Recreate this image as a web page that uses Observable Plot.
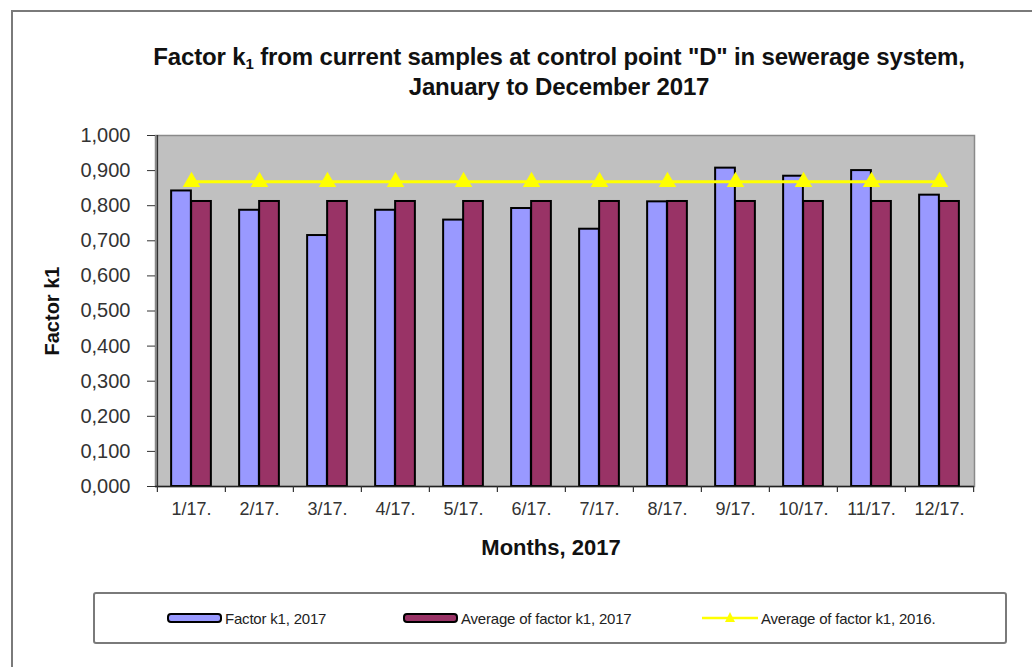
<!DOCTYPE html>
<html>
<head>
<meta charset="utf-8">
<script src="https://cdn.jsdelivr.net/npm/d3@7"></script>
<script src="https://cdn.jsdelivr.net/npm/@observablehq/plot@0.6"></script>
<style>
  body { margin: 0; background: white; font-family: "Liberation Sans", Arial, sans-serif; }
  #wrap { position: relative; width: 1032px; height: 667px; overflow: hidden; background: white; }
  #wrap svg.plotsvg { position: absolute; left: 0; top: 0; }
  .outer { position: absolute; left: 11px; top: 10px; width: 1040px; height: 680px; border: 2px solid #7a7a7a; box-sizing: border-box; }
  .title { position: absolute; left: 146px; width: 826px; top: 42px; text-align: center; font-weight: bold; font-size: 24px; line-height: 30px; color: #111; letter-spacing: -0.15px; }
  .title sub { font-size: 15px; line-height: 0; vertical-align: -4px; }
  .ytitle { position: absolute; left: 52px; top: 311px; transform: translate(-50%, -50%) rotate(-90deg); font-weight: bold; font-size: 20px; color: #111; white-space: nowrap; }
  .xtitle { position: absolute; left: 551px; top: 548px; transform: translate(-50%, -50%); font-weight: bold; font-size: 22px; color: #111; white-space: nowrap; }
  .legend { position: absolute; left: 93px; top: 592px; width: 914px; height: 52px; border: 2px solid #7a7a7a; border-radius: 3px; box-sizing: border-box; background: white; }
  .item { position: absolute; top: 0; height: 48px; display: flex; align-items: center; font-size: 15px; color: #222; letter-spacing: -0.2px; white-space: nowrap; }
</style>
</head>
<body>
<div id="wrap">
  <div class="outer"></div>
</div>
<script>
const months = ["1/17.", "2/17.", "3/17.", "4/17.", "5/17.", "6/17.", "7/17.", "8/17.", "9/17.", "10/17.", "11/17.", "12/17."];
const factorK1_2017 = [0.842, 0.787, 0.715, 0.787, 0.759, 0.792, 0.733, 0.811, 0.907, 0.884, 0.900, 0.830];
const avgK1_2017 = [0.812, 0.812, 0.812, 0.812, 0.812, 0.812, 0.812, 0.812, 0.812, 0.812, 0.812, 0.812];
const avgK1_2016 = [0.868, 0.868, 0.868, 0.868, 0.868, 0.868, 0.868, 0.868, 0.868, 0.868, 0.868, 0.868];
const yTicks = [0, 0.1, 0.2, 0.3, 0.4, 0.5, 0.6, 0.7, 0.8, 0.9, 1.0];
const seriesNames = ["Factor k1, 2017", "Average of factor k1, 2017", "Average of factor k1, 2016."];
const colors = ["#9999ff", "#993366", "#ffff00"];

const rows = months.map((m, i) => ({month: m, k1: factorK1_2017[i], avg17: avgK1_2017[i], avg16: avgK1_2016[i]}));

const W = 1032, H = 667, mL = 155, mR = 58, mT = 135, mB = 181;
const band = (W - mL - mR) / months.length;
const half = band / 2;
const fmt = d => d3.format(".3f")(d).replace(".", ",");

const chart = Plot.plot({
  width: W, height: H,
  marginLeft: mL, marginRight: mR, marginTop: mT, marginBottom: mB,
  style: {background: "transparent", fontFamily: "Liberation Sans, Arial, sans-serif"},
  x: {domain: months, padding: 0, axis: null},
  y: {domain: [0, 1], axis: null},
  marks: [
    Plot.frame({fill: "#c0c0c0", stroke: "#8a8a8a", strokeWidth: 1.5}),
    Plot.barY(rows, {x: "month", y: "k1", fill: colors[0], stroke: "#000", strokeWidth: 2, insetLeft: half - 20, insetRight: half}),
    Plot.barY(rows, {x: "month", y: "avg17", fill: colors[1], stroke: "#000", strokeWidth: 2, insetLeft: half, insetRight: half - 20}),
    Plot.line(rows, {x: "month", y: "avg16", stroke: colors[2], strokeWidth: 3}),
    Plot.dot(rows, {x: "month", y: "avg16", symbol: "triangle", r: 6.5, fill: colors[2], stroke: "none"}),
    Plot.ruleY([0], {stroke: "#222", strokeWidth: 1.5}),
    Plot.ruleX([months[0]], {x: d => d, dx: -half, stroke: "#333", strokeWidth: 1.5}),
    Plot.ruleX(months, {x: d => d, dx: -half, y1: 0, y2: 0, insetBottom: -6, stroke: "#333", strokeWidth: 1.2}),
    Plot.ruleX([months[months.length - 1]], {x: d => d, dx: half, y1: 0, y2: 0, insetBottom: -6, stroke: "#333", strokeWidth: 1.2}),
    Plot.axisY({ticks: yTicks, tickFormat: fmt, tickSize: 8, tickPadding: 17, fontSize: 20, color: "#333", label: null, stroke: "#333"}),
    Plot.axisX({tickSize: 0, tickPadding: 16, fontSize: 18, color: "#333", label: null})
  ]
});
chart.classList.add("plotsvg");
const wrap = document.getElementById("wrap");
wrap.appendChild(chart);

const title = document.createElement("div");
title.className = "title";
title.innerHTML = 'Factor k<sub>1</sub> from current samples at control point "D" in sewerage system,<br>January to December 2017';
wrap.appendChild(title);

const yt = document.createElement("div"); yt.className = "ytitle"; yt.textContent = "Factor k1"; wrap.appendChild(yt);
const xt = document.createElement("div"); xt.className = "xtitle"; xt.textContent = "Months, 2017"; wrap.appendChild(xt);

const legend = document.createElement("div");
legend.className = "legend";
const itemLeft = [71, 307, 605];
seriesNames.forEach((name, i) => {
  const it = document.createElement("div");
  it.className = "item";
  it.style.left = itemLeft[i] + "px";
  let sw;
  if (i < 2) {
    sw = `<svg width="58" height="14" style="margin-right:1px"><rect x="2" y="3" width="53" height="8" rx="3" fill="${colors[i]}" stroke="#000" stroke-width="2"/></svg>`;
  } else {
    sw = `<svg width="60" height="18" style="margin-right:1px"><line x1="2" x2="58" y1="9" y2="9" stroke="${colors[i]}" stroke-width="2.5"/><path d="M30,3 L35,13 L25,13 Z" fill="${colors[i]}"/></svg>`;
  }
  it.innerHTML = sw + `<span>${name}</span>`;
  legend.appendChild(it);
});
wrap.appendChild(legend);
</script>
</body>
</html>
